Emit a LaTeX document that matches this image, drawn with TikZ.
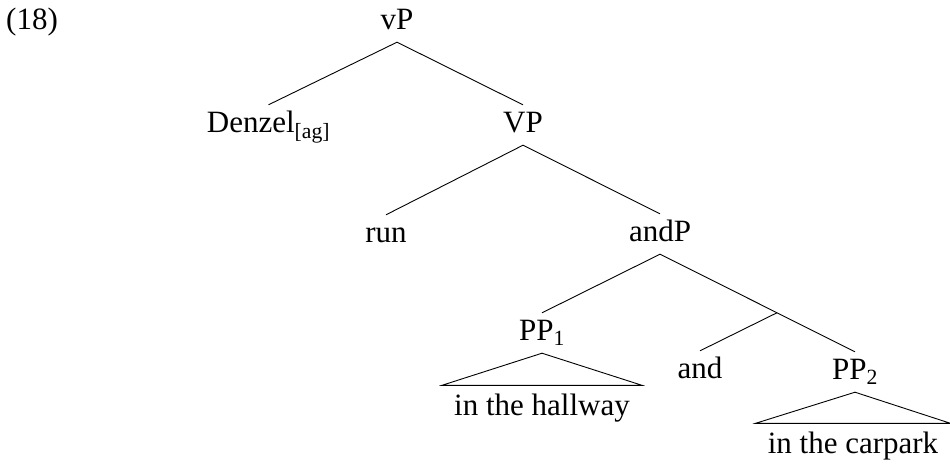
\documentclass[tikz,border=0pt]{standalone}
\usepackage{fontspec}
\setmainfont{Liberation Serif}
\usetikzlibrary{calc}
\begin{document}
\begin{tikzpicture}[x=1pt,y=-1pt,
  lbl/.style={anchor=base, inner xsep=0pt, inner ysep=0pt, text height=27pt, text depth=13pt,
    font=\fontsize{31}{37}\selectfont},
  leaf/.style={anchor=base, inner xsep=0pt, inner ysep=0pt, text height=29.5pt, text depth=8pt,
    font=\fontsize{31}{37}\selectfont},
  edge/.style={draw=black, line width=0.9pt}]
\useasboundingbox (0,0) rectangle (950,464);
\node[lbl, anchor=base west] (ex) at (6,29) {(18)};
\node[lbl] (vP) at (397,29) {vP};
\node[lbl] (Den) at (268.5,132) {Denzel\textsubscript{[ag]}};
\node[lbl] (VP) at (523,132) {VP};
\node[lbl] (run) at (386,242) {run};
\node[lbl] (andP) at (660,241) {andP};
\node[lbl] (PP1) at (542,340) {PP\textsubscript{1}};
\node[lbl] (and) at (700,378) {and};
\node[lbl] (PP2) at (855,379) {PP\textsubscript{2}};
\node[leaf] (hall) at (542,415) {in the hallway};
\node[leaf] (car) at (853,453) {in the carpark};
\coordinate (j) at ($(andP.south)!0.6!(PP2.north)$);
\draw[edge] (Den.north) -- (vP.south) -- (VP.north);
\draw[edge] (run.north) -- (VP.south) -- (andP.north);
\draw[edge] (PP1.north) -- (andP.south) -- (PP2.north);
\draw[edge] (j) -- (and.north);
\draw[edge] (PP1.south) -- ([xshift=-12pt]hall.north west) -- ([xshift=12pt]hall.north east) -- cycle;
\draw[edge] (PP2.south) -- ([xshift=-12pt]car.north west) -- ([xshift=12pt]car.north east) -- cycle;
\end{tikzpicture}
\end{document}
